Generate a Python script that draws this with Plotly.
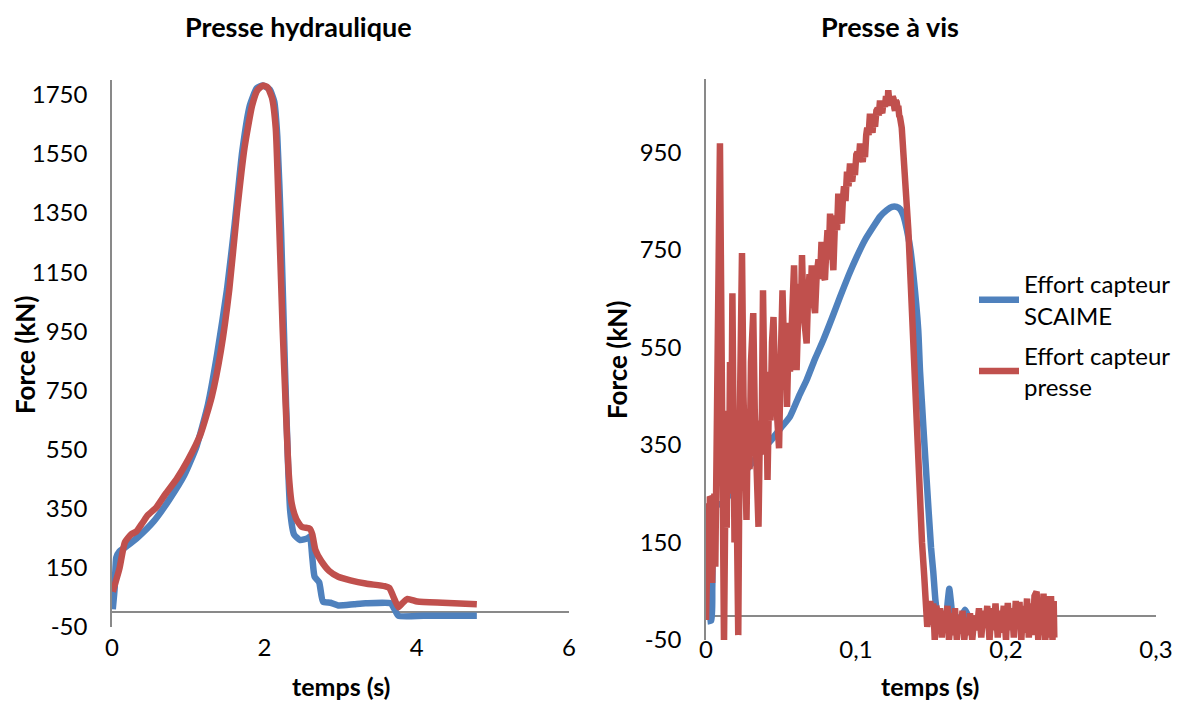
import plotly.graph_objects as go

# ---------------- Data: Presse hydraulique ----------------
hyd_t_scaime = [0.01, 0.035, 0.056, 0.096, 0.197, 0.35, 0.55, 0.75, 0.95, 1.11, 1.26, 1.38, 1.51, 1.61,
                1.71, 1.81, 1.90, 1.98, 2.07, 2.13, 2.17, 2.22, 2.27, 2.31, 2.34, 2.39, 2.47, 2.57,
                2.60, 2.63, 2.66, 2.72, 2.77, 2.87, 2.97, 3.18, 3.33, 3.66, 3.71, 3.76, 4.09, 4.79]
hyd_f_scaime = [10, 82, 185, 205, 224, 256, 308, 380, 464, 561, 703, 872, 1092, 1312,
                1558, 1714, 1772, 1781, 1768, 1727, 1610, 1286, 833, 509, 341, 263, 244, 250,
                256, 185, 120, 101, 36, 32, 23, 27, 30, 30, 10, -12, -12, -12]

hyd_t_presse = [0.01, 0.096, 0.17, 0.25, 0.32, 0.40, 0.47, 0.58, 0.70, 0.85, 1.0, 1.16, 1.31, 1.43,
                1.54, 1.64, 1.74, 1.84, 1.91, 1.98, 2.04, 2.10, 2.15, 2.19, 2.24, 2.28, 2.32, 2.36,
                2.42, 2.49, 2.60, 2.63, 2.67, 2.75, 2.85, 2.97, 3.13, 3.33, 3.58, 3.64, 3.71, 3.76,
                3.81, 3.88, 4.01, 4.34, 4.79]
hyd_f_presse = [69, 146, 237, 263, 273, 302, 328, 354, 399, 451, 516, 600, 729, 885,
                1092, 1351, 1571, 1714, 1766, 1781, 1776, 1740, 1636, 1351, 962, 703, 470, 367,
                315, 289, 282, 263, 211, 172, 140, 120, 108, 97, 88, 82, 43, 17,
                30, 45, 36, 32, 27]

# ---------------- Data: Presse à vis ----------------
vis_t_scaime = [0.001, 0.0035, 0.0042, 0.006, 0.011, 0.016, 0.025, 0.035, 0.043, 0.05, 0.056, 0.062,
                0.0671, 0.0725, 0.0782, 0.084, 0.0893, 0.095, 0.1004, 0.106, 0.1115, 0.116, 0.1204,
                0.124, 0.1271, 0.1295, 0.1316, 0.134, 0.136, 0.1382, 0.1415, 0.1427, 0.1471, 0.15,
                0.1515, 0.153, 0.1545, 0.1575, 0.16, 0.1612, 0.1622, 0.1632, 0.1645, 0.1665, 0.17,
                0.1727, 0.175, 0.178, 0.185, 0.195, 0.205, 0.215, 0.225, 0.232]
vis_f_scaime = [-12, -10, 60, 225, 230, 250, 290, 330, 358, 385, 408, 450,
                483, 525, 565, 610, 653, 697, 735, 770, 797, 818, 831,
                838, 838, 833, 820, 790, 756, 700, 585, 500, 278, 140,
                90, 30, 0, -5, 0, 30, 55, 30, 0, -5, -2,
                12, -2, -8, -10, -10, -12, -10, -12, -10]

vis_t_presse = [0.0, 0.0006, 0.0011, 0.0016, 0.0021, 0.0026, 0.0031, 0.0036, 0.0041, 0.0046, 0.0051,
                0.0056, 0.0062, 0.0068, 0.0074, 0.008, 0.0093, 0.01, 0.011, 0.012, 0.013, 0.0138,
                0.0146, 0.0153, 0.016, 0.0168, 0.0176, 0.0184, 0.019, 0.02, 0.0207, 0.0215, 0.0225,
                0.024, 0.025, 0.026, 0.027, 0.028, 0.029, 0.03, 0.0315, 0.0325, 0.0335, 0.035,
                0.036, 0.037, 0.038, 0.039, 0.04, 0.041, 0.042, 0.043, 0.044, 0.045, 0.046, 0.047,
                0.0487, 0.0498, 0.051, 0.052, 0.053, 0.054, 0.055, 0.056, 0.0572, 0.0587, 0.0596,
                0.0604, 0.0615, 0.0625, 0.0632, 0.064, 0.065, 0.066, 0.0671, 0.068, 0.069, 0.0697,
                0.0705, 0.0714, 0.0727, 0.0738, 0.075, 0.076, 0.077, 0.078, 0.0793, 0.0802, 0.081,
                0.0818, 0.0827, 0.0838, 0.0849, 0.0858, 0.0865, 0.0874, 0.0882, 0.0892, 0.0905,
                0.0912, 0.092, 0.093, 0.094, 0.095, 0.096, 0.0968, 0.0975, 0.0984, 0.0993, 0.1002,
                0.101, 0.1018, 0.1027, 0.1036, 0.1045, 0.1052, 0.106, 0.1068, 0.1075, 0.1084,
                0.1093, 0.1102, 0.111, 0.1118, 0.1127, 0.1136, 0.1145, 0.1152, 0.116, 0.1168,
                0.1175, 0.1184, 0.1193, 0.12, 0.1205, 0.121, 0.1215, 0.122, 0.1225, 0.1232, 0.1238,
                0.1244, 0.125, 0.1256, 0.126, 0.1266, 0.1271, 0.1277, 0.1282, 0.1288, 0.1293,
                0.1305, 0.1315, 0.133, 0.1349, 0.1365, 0.1382, 0.14, 0.1415, 0.1428, 0.144, 0.1455,
                0.1465, 0.1475, 0.1495, 0.1505, 0.1515, 0.1525, 0.1535, 0.155, 0.156, 0.1572,
                0.1585, 0.1595, 0.161, 0.162, 0.1635, 0.1648, 0.166, 0.1672, 0.1685, 0.1698, 0.171,
                0.1722, 0.1735, 0.1748, 0.176, 0.1775, 0.179, 0.1805, 0.182, 0.1835, 0.185, 0.1862,
                0.1875, 0.189, 0.1905, 0.1918, 0.193, 0.1945, 0.1958, 0.197, 0.1985, 0.2, 0.2012,
                0.2025, 0.204, 0.2052, 0.2065, 0.2078, 0.209, 0.2102, 0.2115, 0.2128, 0.214,
                0.2152, 0.2165, 0.2178, 0.219, 0.2204, 0.2215, 0.2228, 0.2238, 0.225, 0.2262,
                0.2275, 0.2288, 0.23, 0.231, 0.2318, 0.2322]
vis_f_presse = [-9, 110, 40, 230, 120, 244, 150, 240, 67, 235, 90,
                250, 100, 300, 180, 500, 968, 700, 250, -60, 280, 180,
                420, 250, 520, 300, 661, 400, 150, 350, 80, -40, 400,
                743, 450, 300, 196, 420, 300, 520, 620, 420, 300, 182,
                400, 330, 667, 450, 500, 278, 450, 400, 560, 612, 480, 400,
                343, 520, 667, 550, 600, 428, 560, 500, 650, 718, 600,
                503, 620, 680, 600, 739, 620, 570, 558, 650, 700, 640,
                718, 650, 620, 700, 730, 690, 766, 700, 688, 750, 790,
                730, 824, 760, 708, 790, 820, 790, 865, 820, 804,
                850, 880, 850, 910, 880, 927, 895, 890, 920, 903, 945,
                950, 930, 968, 940, 930, 960, 940, 985, 1000, 985,
                1029, 1000, 990, 1020, 1002, 1035, 1040, 1025, 1056, 1035,
                1030, 1055, 1043, 1065, 1060, 1045, 1077, 1050, 1045, 1062, 1046,
                1064, 1060, 1040, 1035, 1055, 1053, 1040, 1045, 1025, 1022,
                1000, 961, 890, 790, 680, 551, 420, 312, 220, 150, 80,
                30, -23, 30, -10, 25, -50, 20, -5, 15, -45,
                10, -30, 20, -50, 5, -40, 15, -50, 0, -35, 10,
                -50, -5, -40, 5, -50, 0, -30, 15, -45, 10, -25,
                20, -50, 15, -30, 25, -45, 10, -35, 20, -50, 26,
                -30, 15, -45, 30, -20, 28, -50, 20, -35, 35,
                -45, 25, -40, 40, 49, -50, 35, -40, 45, -50,
                40, -45, 40, -50, 30, -45]

hyd_y_ticks = [-50, 150, 350, 550, 750, 950, 1150, 1350, 1550, 1750]
vis_y_ticks = [-50, 150, 350, 550, 750, 950]
hyd_x_ticks = [0, 2, 4, 6]
vis_x_ticks = [0, 0.1, 0.2, 0.3]
vis_x_labels = ["0", "0,1", "0,2", "0,3"]

BLUE = "#4F81BD"
RED = "#C0504D"
AXIS = "#898989"
FONT = "Lato, 'Open Sans', sans-serif"
LW = 6.5

fig = go.Figure()
fig.add_trace(go.Scatter(x=hyd_t_scaime, y=hyd_f_scaime, mode="lines",
                         line=dict(color=BLUE, width=LW, shape="spline", smoothing=0.5),
                         name="Effort capteur<br>SCAIME", xaxis="x", yaxis="y", showlegend=False))
fig.add_trace(go.Scatter(x=hyd_t_presse, y=hyd_f_presse, mode="lines",
                         line=dict(color=RED, width=LW, shape="spline", smoothing=0.5),
                         name="Effort capteur<br>presse", xaxis="x", yaxis="y", showlegend=False))
fig.add_trace(go.Scatter(x=vis_t_scaime, y=vis_f_scaime, mode="lines",
                         line=dict(color=BLUE, width=LW, shape="spline", smoothing=0.5),
                         name="Effort capteur<br>SCAIME", xaxis="x2", yaxis="y2", legendgroup="a"))
fig.add_trace(go.Scatter(x=vis_t_presse, y=vis_f_presse, mode="lines", line=dict(color=RED, width=LW),
                         name="Effort capteur<br>presse", xaxis="x2", yaxis="y2", legendgroup="b"))

W, H = 1177, 704
def px(x):
    return x / W
def py(y):
    return 1 - y / H

tickfont = dict(family=FONT, size=24, color="#000000")
common_x = dict(showgrid=False, zeroline=False, showline=False, ticks="", tickfont=tickfont,
                automargin=False)
common_y = dict(showgrid=False, zeroline=True, zerolinecolor=AXIS, zerolinewidth=1.5,
                showline=True, linecolor=AXIS, linewidth=1.5, ticks="", tickfont=tickfont,
                ticklabelstandoff=18, automargin=False)

def label(text, x, y, size, angle=0):
    return dict(text=text, x=px(x), y=py(y), xref="paper", yref="paper", xanchor="center",
                yanchor="middle", textangle=angle, showarrow=False,
                font=dict(family=FONT, size=size, color="#000000"))

fig.update_layout(
    width=W, height=H,
    margin=dict(l=0, r=0, t=0, b=0, autoexpand=False),
    paper_bgcolor="white", plot_bgcolor="white",
    font=dict(family=FONT, color="#000000"),
    xaxis=dict(domain=[px(112), px(569)], range=[0, 6], tickvals=hyd_x_ticks, anchor="y",
               ticklabelstandoff=4, **common_x),
    yaxis=dict(domain=[py(627), py(80)], range=[-50, 1800], tickvals=hyd_y_ticks,
               ticktext=[str(v) for v in hyd_y_ticks], anchor="x", **common_y),
    xaxis2=dict(domain=[px(706), px(1156)], range=[0, 0.3], tickvals=vis_x_ticks, ticktext=vis_x_labels,
                anchor="y2", ticklabelstandoff=-7, **common_x),
    yaxis2=dict(domain=[py(640), py(79)], range=[-50, 1100], tickvals=vis_y_ticks,
                ticktext=[str(v) for v in vis_y_ticks], anchor="x2", **common_y),
    legend=dict(x=px(974), y=py(262), xanchor="left", yanchor="top", bgcolor="rgba(0,0,0,0)",
                font=dict(family=FONT, size=24, color="#000000"), tracegroupgap=6, itemwidth=40),
    annotations=[
        label("<b>Presse hydraulique</b>", 298, 26, 27),
        label("<b>Presse à vis</b>", 890, 26, 27),
        label("<b>Force (kN)</b>", 25, 355, 26, -90),
        label("<b>Force (kN)</b>", 617, 360, 26, -90),
        label("<b>temps (s)</b>", 341, 686, 25),
        label("<b>temps (s)</b>", 930, 686, 25),
    ],
)

fig.write_html("out.html", config={"displayModeBar": False},
               post_script="document.body.style.margin='0px';")
